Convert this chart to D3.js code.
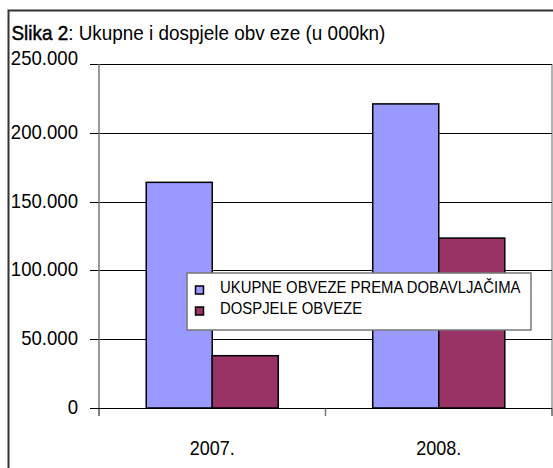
<!DOCTYPE html>
<html>
<head>
<meta charset="utf-8">
<script src="https://cdn.jsdelivr.net/npm/d3@7"></script>
<style>
  html, body { margin: 0; padding: 0; background: #fff; }
  svg { display: block; }
  text { font-family: "Liberation Sans", Arial, sans-serif; fill: #000; }
</style>
</head>
<body>
<script>
const categories = ["2007.", "2008."];
const seriesNames = ["UKUPNE OBVEZE PREMA DOBAVLJAČIMA", "DOSPJELE OBVEZE"];
const ukupneObveze = [164000, 221000];
const dospjeleObveze = [38000, 123500];
const yTickValues = [0, 50000, 100000, 150000, 200000, 250000];
const seriesColors = ["#9999FF", "#993366"];
const titleBold = "Slika 2";
const titleRest = ": Ukupne i dospjele obv eze (u 000kn)";

const W = 553, H = 468;
const plot = { left: 99, right: 552, top: 64, bottom: 408 };
const sx = 0.93;

const svg = d3.select("body").append("svg").attr("width", W).attr("height", H);

// outer frame (only left/top visible)
svg.append("rect").attr("x", 8.5).attr("y", 10.5).attr("width", 700).attr("height", 700)
  .attr("fill", "#fff").attr("stroke", "#333").attr("stroke-width", 2);

const x0 = d3.scaleBand().domain(categories).range([plot.left, plot.right])
  .paddingInner(0.417).paddingOuter(0.2085);
const x1 = d3.scaleBand().domain(d3.range(seriesNames.length)).range([0, x0.bandwidth()]);
const y = d3.scaleLinear().domain([0, 250000]).range([plot.bottom, plot.top]);
const fmt = d3.formatLocale({ decimal: ",", thousands: ".", grouping: [3], currency: ["", ""] }).format(",d");

// plot area right border
svg.append("line").attr("x1", plot.right).attr("x2", plot.right).attr("y1", plot.top).attr("y2", plot.bottom + 8)
  .attr("stroke", "#999").attr("stroke-width", 1.5);

// gridlines
svg.append("g").selectAll("line").data(yTickValues).join("line")
  .attr("x1", plot.left - 9).attr("x2", plot.right)
  .attr("y1", d => Math.round(y(d)) + 0.5).attr("y2", d => Math.round(y(d)) + 0.5)
  .attr("stroke", "#000").attr("stroke-width", 1);

// y axis line
svg.append("line").attr("x1", plot.left).attr("x2", plot.left).attr("y1", plot.top).attr("y2", plot.bottom + 8)
  .attr("stroke", "#777").attr("stroke-width", 1.5);

// x axis ticks at category boundaries
const boundaries = [plot.left, (plot.left + plot.right) / 2, plot.right];
svg.append("g").selectAll("line").data(boundaries).join("line")
  .attr("x1", d => d).attr("x2", d => d).attr("y1", plot.bottom).attr("y2", plot.bottom + 8)
  .attr("stroke", "#777").attr("stroke-width", 1.5);

// bars
const series = [ukupneObveze, dospjeleObveze];
const groups = svg.append("g").selectAll("g").data(categories).join("g")
  .attr("transform", d => `translate(${x0(d)},0)`);
groups.selectAll("rect").data((c, ci) => series.map((s, si) => ({ si, v: s[ci] }))).join("rect")
  .attr("x", d => x1(d.si)).attr("width", x1.bandwidth())
  .attr("y", d => y(d.v)).attr("height", d => y(0) - y(d.v))
  .attr("fill", d => seriesColors[d.si]).attr("stroke", "#000").attr("stroke-width", 1.5);

// baseline
svg.append("line").attr("x1", plot.left - 9).attr("x2", plot.right)
  .attr("y1", y(0) + 0.5).attr("y2", y(0) + 0.5).attr("stroke", "#000").attr("stroke-width", 1);

// y tick labels
svg.append("g").selectAll("text").data(yTickValues).join("text")
  .attr("transform", d => `translate(78,${y(d) + (d === 250000 ? 1 : 6)}) scale(${sx},1)`)
  .attr("text-anchor", "end").attr("font-size", 20).text(d => fmt(d));

// x labels
svg.append("g").selectAll("text").data(categories).join("text")
  .attr("transform", d => `translate(${x0(d) + x0.bandwidth() / 2},455) scale(0.9,1)`)
  .attr("text-anchor", "middle").attr("font-size", 20).text(d => d);

// title
const title = svg.append("text").attr("transform", `translate(11.5,40) scale(0.97,1)`).attr("font-size", 19.5);
title.append("tspan").attr("stroke", "#000").attr("stroke-width", 0.45).text(titleBold);
title.append("tspan").text(titleRest);

// legend
const lg = svg.append("g").attr("transform", "translate(187,273)");
lg.append("rect").attr("width", 344).attr("height", 57).attr("fill", "#fff")
  .attr("stroke", "#777").attr("stroke-width", 1.5);
const items = lg.selectAll("g").data(seriesNames).join("g")
  .attr("transform", (d, i) => `translate(0,${i * 21})`);
items.append("rect").attr("x", 8.5).attr("y", 13).attr("width", 8).attr("height", 8)
  .attr("fill", (d, i) => seriesColors[i]).attr("stroke", "#000").attr("stroke-width", 1.5);
items.append("text").attr("transform", `translate(33,19.5) scale(0.93,1)`).attr("font-size", 16).text(d => d);
</script>
</body>
</html>
